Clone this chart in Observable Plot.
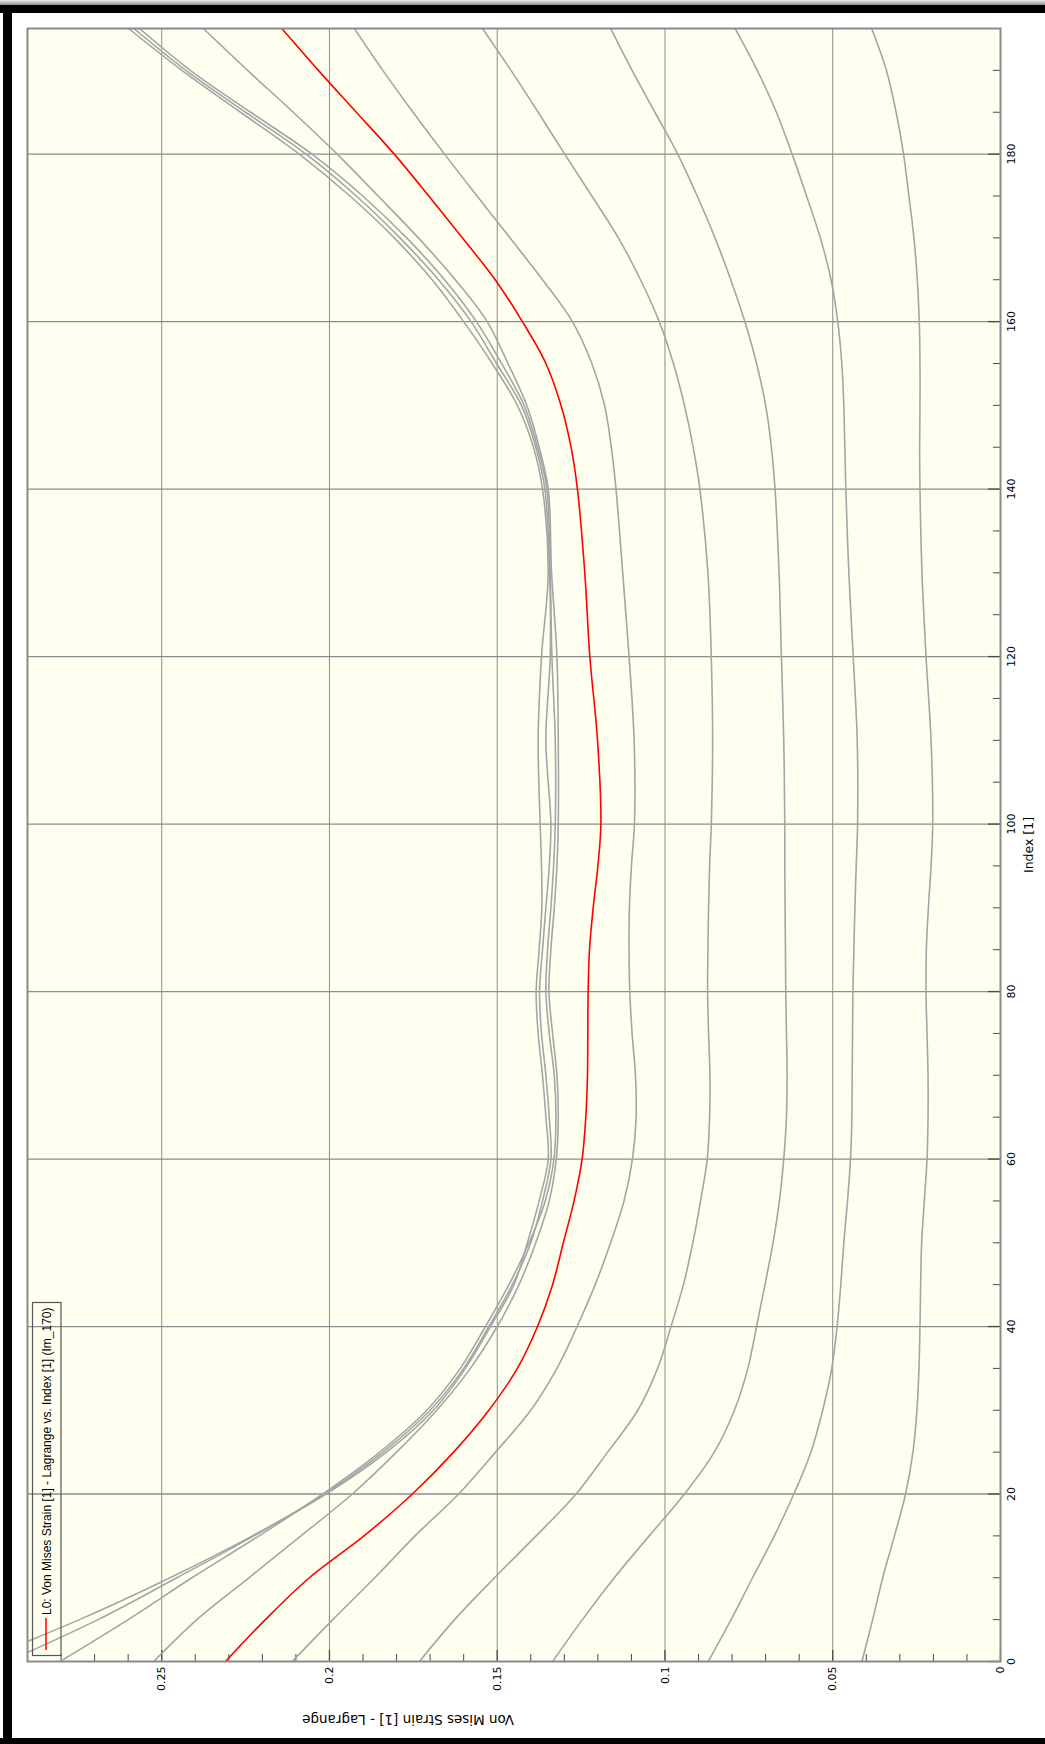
<!DOCTYPE html>
<html>
<head>
<meta charset="utf-8">
<script src="https://cdn.jsdelivr.net/npm/d3@7"></script>
<script src="https://cdn.jsdelivr.net/npm/@observablehq/plot@0.6"></script>
<style>
  html, body { margin: 0; padding: 0; background: #ffffff; }
  body { width: 1045px; height: 1744px; position: relative; overflow: hidden; }
  #rot { position: absolute; left: 0; top: 0; width: 1744px; height: 1045px;
         transform-origin: 0 0; transform: translate(0px, 1744px) rotate(-90deg); }
  #rot svg { display: block; }
  .band { position: absolute; }
</style>
</head>
<body>
<div id="rot"></div>
<div class="band" style="left:0;top:0;width:1045px;height:5px;background:linear-gradient(#eeeeee,#8f8f8f);"></div>
<div class="band" style="left:0;top:5px;width:1045px;height:8px;background:#000;"></div>
<div class="band" style="left:3px;top:5px;width:9px;height:1739px;background:#000;"></div>
<div class="band" style="left:0;top:1738px;width:1045px;height:6px;background:#000;"></div>
<script>
// ---- data ----
const indexValues = [0,5,10,15,20,25,30,35,40,45,50,55,60,65,70,75,80,85,90,95,100,110,120,130,140,145,150,155,160,165,170,175,180,185,190,195];

const strainA = [0.0413,0.0381,0.0351,0.0316,0.0283,0.0261,0.0249,0.0243,0.0240,0.0238,0.0235,0.0227,0.0219,0.0216,0.0216,0.0219,0.0222,0.0221,0.0215,0.0207,0.0202,0.0207,0.0222,0.0234,0.0240,0.0241,0.0240,0.0240,0.0242,0.0248,0.0258,0.0273,0.0289,0.0311,0.0340,0.0384];
const strainB = [0.0871,0.0803,0.0739,0.0674,0.0616,0.0565,0.0530,0.0503,0.0487,0.0476,0.0467,0.0456,0.0447,0.0443,0.0442,0.0441,0.0440,0.0437,0.0434,0.0430,0.0426,0.0427,0.0439,0.0452,0.0461,0.0464,0.0467,0.0473,0.0485,0.0505,0.0537,0.0578,0.0621,0.0668,0.0725,0.0791];
const strainC = [0.1335,0.1246,0.1151,0.1047,0.0942,0.0853,0.0793,0.0753,0.0727,0.0702,0.0678,0.0659,0.0646,0.0638,0.0636,0.0638,0.0640,0.0641,0.0642,0.0643,0.0643,0.0646,0.0653,0.0660,0.0672,0.0683,0.0700,0.0727,0.0762,0.0804,0.0851,0.0904,0.0962,0.1030,0.1098,0.1162];
const strainD = [0.1732,0.1627,0.1508,0.1384,0.1265,0.1171,0.1081,0.1022,0.0982,0.0945,0.0917,0.0894,0.0874,0.0867,0.0866,0.0870,0.0873,0.0872,0.0870,0.0867,0.0862,0.0858,0.0862,0.0872,0.0896,0.0916,0.0942,0.0975,0.1017,0.1073,0.1139,0.1218,0.1299,0.1378,0.1459,0.1544];
const strainE = [0.2111,0.1990,0.1865,0.1745,0.1615,0.1505,0.1400,0.1322,0.1262,0.1208,0.1162,0.1122,0.1097,0.1086,0.1088,0.1098,0.1105,0.1107,0.1106,0.1100,0.1091,0.1092,0.1107,0.1126,0.1146,0.1160,0.1180,0.1218,0.1276,0.1365,0.1462,0.1560,0.1657,0.1751,0.1841,0.1926];
const strainIm170 = [0.2310,0.2191,0.2060,0.1897,0.1753,0.1630,0.1525,0.1440,0.1380,0.1335,0.1303,0.1271,0.1247,0.1236,0.1231,0.1230,0.1229,0.1225,0.1214,0.1200,0.1191,0.1201,0.1224,0.1239,0.1261,0.1280,0.1310,0.1355,0.1425,0.1506,0.1604,0.1704,0.1807,0.1920,0.2033,0.2142];
const strainF = [0.2524,0.2395,0.2240,0.2085,0.1932,0.1800,0.1680,0.1580,0.1500,0.1435,0.1385,0.1345,0.1324,0.1318,0.1322,0.1335,0.1346,0.1340,0.1330,0.1322,0.1318,0.1318,0.1322,0.1338,0.1348,0.1375,0.1412,0.1468,0.1530,0.1625,0.1735,0.1855,0.1977,0.2108,0.2244,0.2376];
const strainG = [0.2803,0.2600,0.2410,0.2210,0.2020,0.1850,0.1710,0.1610,0.1535,0.1465,0.1405,0.1357,0.1331,0.1325,0.1330,0.1345,0.1355,0.1350,0.1340,0.1332,0.1327,0.1327,0.1337,0.1342,0.1352,0.1380,0.1420,0.1487,0.1562,0.1657,0.1770,0.1901,0.2052,0.2235,0.2415,0.2566];
const strainH = [0.2960,0.2690,0.2455,0.2225,0.2015,0.1840,0.1700,0.1600,0.1525,0.1455,0.1400,0.1365,0.1340,0.1345,0.1355,0.1368,0.1374,0.1365,0.1355,0.1345,0.1340,0.1355,0.1342,0.1344,0.1358,0.1385,0.1428,0.1502,0.1578,0.1675,0.1790,0.1920,0.2070,0.2250,0.2428,0.2583];
const strainI = [0.3050,0.2745,0.2475,0.2230,0.2010,0.1830,0.1690,0.1595,0.1520,0.1450,0.1410,0.1375,0.1348,0.1355,0.1365,0.1378,0.1384,0.1375,0.1367,0.1368,0.1372,0.1378,0.1368,0.1348,0.1365,0.1392,0.1440,0.1515,0.1600,0.1694,0.1807,0.1939,0.2090,0.2265,0.2440,0.2599];

const graySeries = {A: strainA, B: strainB, C: strainC, D: strainD, E: strainE, F: strainF, G: strainG, H: strainH, I: strainI};

const indexTicks = [0,20,40,60,80,100,120,140,160,180];
const indexTickLabels = ["0","20","40","60","80","100","120","140","160","180"];
const strainTicks = [0,0.05,0.1,0.15,0.2,0.25];
const strainTickLabels = ["0","0.05","0.1","0.15","0.2","0.25"];

const xTitle = "Index [1]";
const yTitle = "Von Mises Strain [1] - Lagrange";
const legendLabel = "L0: Von Mises Strain [1] - Lagrange vs. Index [1] (Im_170)";

// ---- build tables ----
const grayRows = [];
for (const [name, vals] of Object.entries(graySeries)) {
  indexValues.forEach((ix, i) => grayRows.push({series: name, index: ix, strain: vals[i]}));
}
const redRows = indexValues.map((ix, i) => ({index: ix, strain: strainIm170[i]}));

const W = 1744, H = 1045;
const mL = 82, mR = 29, mT = 27, mB = 45;
const frameW = W - mL - mR, frameH = H - mT - mB;

const indexMinor = d3.range(0, 196, 5).filter(d => d % 20 !== 0);
const strainMinor = d3.range(1, 29).map(d => d / 100).filter(d => Math.round(d * 100) % 5 !== 0);

const tickColor = "#4a4a4a";
const gridColor = "#8c8c8c";

const plot = Plot.plot({
  width: W,
  height: H,
  marginLeft: mL, marginRight: mR, marginTop: mT, marginBottom: mB,
  style: {background: "transparent", fontFamily: "'DejaVu Sans', sans-serif", fontSize: "11px", color: "#000"},
  x: {domain: [0, 195]},
  y: {domain: [0, 0.29]},
  marks: [
    Plot.frame({fill: "#fffff0", stroke: null}),
    Plot.gridX(indexTicks.filter(d => d > 0), {stroke: gridColor, strokeOpacity: 1, strokeWidth: 1.3}),
    Plot.gridY(strainTicks.filter(d => d > 0), {stroke: gridColor, strokeOpacity: 1, strokeWidth: 1}),
    Plot.ruleX(indexMinor, {insetTop: frameH - 7, stroke: tickColor}),
    Plot.ruleX(indexTicks, {insetTop: frameH - 12, stroke: tickColor, strokeWidth: 1.3}),
    Plot.ruleY(strainMinor, {insetRight: frameW - 8, stroke: tickColor}),
    Plot.ruleY(strainTicks, {insetRight: frameW - 12, stroke: tickColor, strokeWidth: 1.3}),
    Plot.line(grayRows, {x: "index", y: "strain", z: "series", stroke: "#a5a5a5", strokeWidth: 1.6, curve: "catmull-rom", clip: true}),
    Plot.line(redRows, {x: "index", y: "strain", stroke: "#ff0000", strokeWidth: 1.6, curve: "catmull-rom", clip: true}),
    Plot.frame({stroke: "#8a8a8a", strokeWidth: 2}),
    Plot.axisX(indexTicks, {tickSize: 0, tickPadding: 7, label: null, fontSize: 11,
      tickFormat: d => indexTickLabels[indexTicks.indexOf(d)]}),
    Plot.axisY(strainTicks, {tickSize: 0, tickPadding: 5, label: null, fontSize: 11,
      tickFormat: d => strainTickLabels[strainTicks.indexOf(d)]}),
    Plot.text([xTitle], {text: d => d, frameAnchor: "bottom", dy: 24, lineAnchor: "top", fontSize: 12.5, fill: "#000"}),
    Plot.text([yTitle], {text: d => d, frameAnchor: "left", dx: -58, rotate: -90, lineAnchor: "middle", fontSize: 13.5, fill: "#000"})
  ]
});

// legend box (top-left inside the frame)
const svg = d3.select(plot);
const lg = svg.append("g").attr("text-anchor", "start");
lg.append("rect").attr("x", 88.5).attr("y", 32.5).attr("width", 353).attr("height", 28.5)
  .attr("fill", "none").attr("stroke", "#555555").attr("stroke-width", 1.2);
lg.append("line").attr("x1", 94).attr("x2", 126).attr("y1", 46).attr("y2", 46)
  .attr("stroke", "#ff0000").attr("stroke-width", 1.5);
lg.append("text").attr("x", 129).attr("y", 51).attr("text-anchor", "start")
  .attr("font-family", "'Liberation Sans', Arial, sans-serif").attr("font-size", 12)
  .attr("fill", "#000").text(legendLabel);

document.getElementById("rot").appendChild(plot);
</script>
</body>
</html>
